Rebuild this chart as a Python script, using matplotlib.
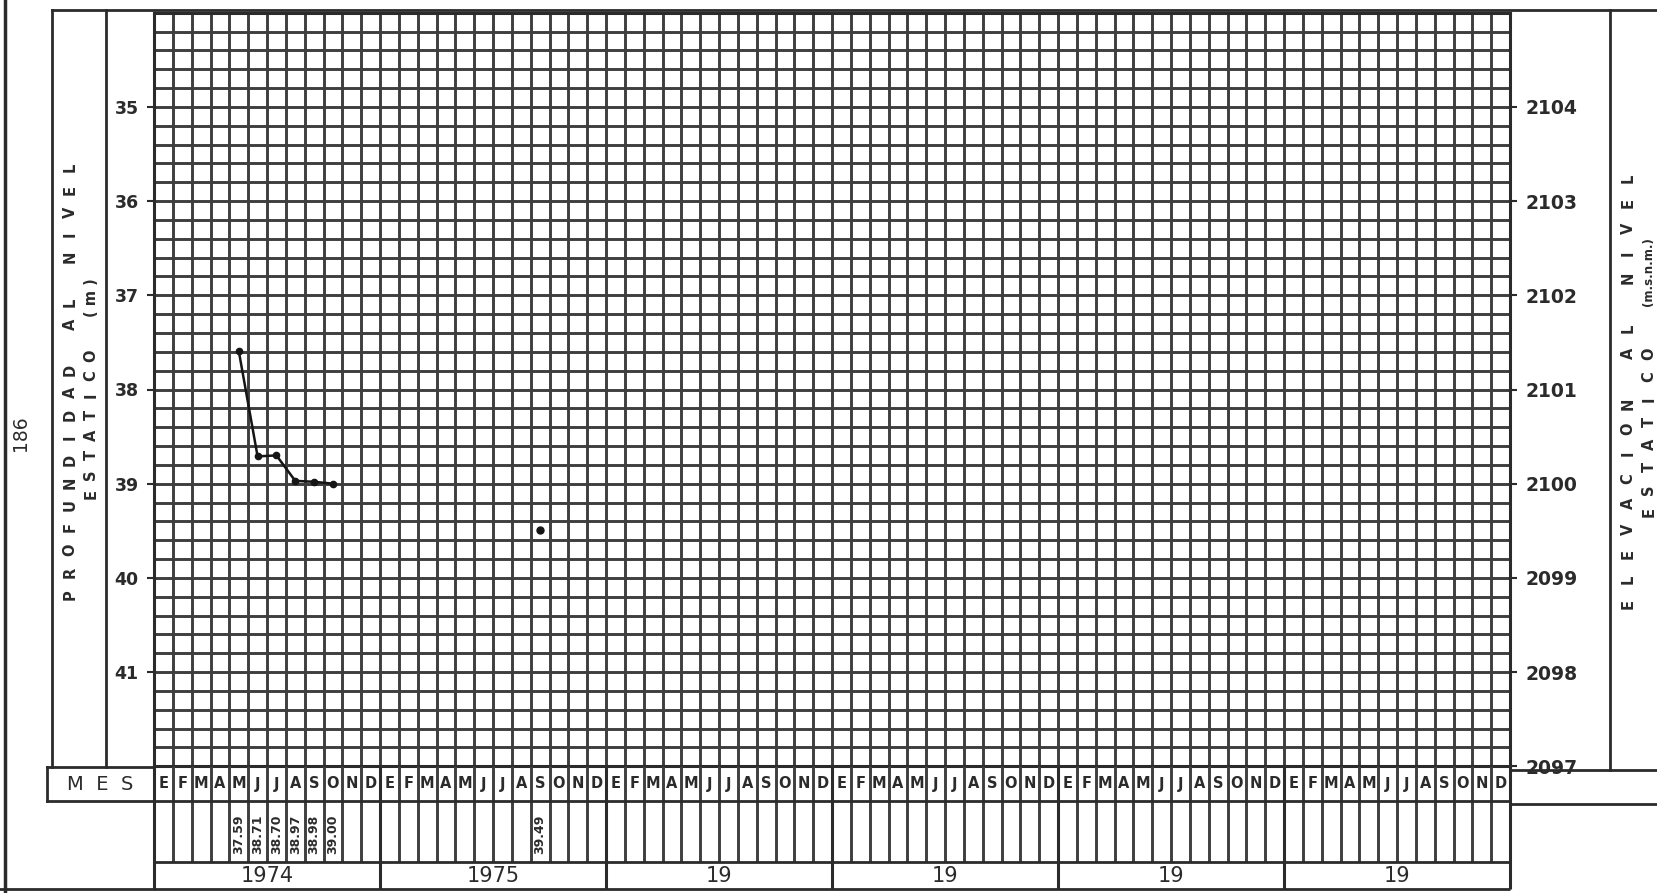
import numpy as np
import matplotlib.pyplot as plt
from matplotlib.ticker import MultipleLocator

# lecturas de profundidad al nivel estatico (m), mes contado desde enero 1974
meses_lect = [4, 5, 6, 7, 8, 9]
prof_lect = [37.59, 38.71, 38.70, 38.97, 38.98, 39.00]
mes_aislado = [20]
prof_aislada = [39.49]

meses = ['E', 'F', 'M', 'A', 'M', 'J', 'J', 'A', 'S', 'O', 'N', 'D']
anios = ['1974', '1975', '19', '19', '19', '19']
prof_ticks = [35, 36, 37, 38, 39, 40, 41]
elev_ticks = [2104, 2103, 2102, 2101, 2100, 2099, 2098, 2097]

W, H = 1657, 893
ink = '#2b2b2b'
grid_c = '#3e3e3e'


def fr(x0, y0, x1, y1):
    return [x0 / W, 1 - y1 / H, (x1 - x0) / W, (y1 - y0) / H]


def spaced(ax, x, y_bot, y_top, s, **kw):
    # letras verticales repartidas de abajo hacia arriba
    ys = np.linspace(y_bot, y_top, len(s))
    for ch, y in zip(s, ys):
        if ch != ' ':
            ax.text(x, y, ch, rotation=90, ha='center', va='center', **kw)


fig = plt.figure(figsize=(W / 100, H / 100), dpi=100)
fig.patch.set_facecolor('white')

# marco de la hoja (coordenadas en pixeles)
bg = fig.add_axes([0, 0, 1, 1])
bg.set_xlim(0, W)
bg.set_ylim(H, 0)
bg.axis('off')
kw = dict(color=ink, lw=2)
bg.plot([52, W], [10, 10], **kw)
bg.plot([52, 52], [10, 767], **kw)
bg.plot([106, 106], [10, 767], **kw)
bg.plot([47, 154], [767, 767], **kw)
bg.plot([47, 154], [801, 801], **kw)
bg.plot([47, 47], [767, 801], **kw)
bg.plot([1610, 1610], [10, 770], **kw)
bg.plot([1510, W], [770, 770], **kw)
bg.plot([1510, W], [804, 804], **kw)
bg.plot([5, 5], [0, H], color=ink, lw=2.5)
bg.plot([0, 154], [889, 889], **kw)

bg.text(21, 433, '186', rotation=90, ha='center', va='center', fontsize=13.5, color=ink)
bg.text(100, 785, 'M  E  S', ha='center', va='center', fontsize=14, color=ink)

lab = dict(fontsize=10.5, fontweight='bold', color=ink)
spaced(bg, 70, 595, 167, 'PROFUNDIDAD AL NIVEL', **lab)
spaced(bg, 91, 494, 356, 'ESTATICO', **lab)
bg.text(91, 298, '( m )', rotation=90, ha='center', va='center', **lab)
spaced(bg, 1628, 604, 178, 'ELEVACION AL NIVEL', **lab)
spaced(bg, 1649, 512, 354, 'ESTATICO', **lab)
bg.text(1649, 272, '(m.s.n.m.)', rotation=90, ha='center', va='center',
        fontsize=8.5, fontweight='bold', color=ink)

# grafica principal
ax = fig.add_axes(fr(154, 12.8, 1510, 766.2))
ax.set_xlim(0, 72)
ax.set_ylim(42, 34)
ax.set_xticks(np.arange(0, 73, 1))
ax.tick_params(axis='x', length=0, labelbottom=False)
ax.set_yticks(prof_ticks)
ax.yaxis.set_minor_locator(MultipleLocator(0.2))
ax.tick_params(axis='y', which='major', length=5, width=1.5, color=ink, pad=6,
               labelsize=12.5, labelcolor=ink)
ax.tick_params(axis='y', which='minor', length=0)
for t in ax.get_yticklabels():
    t.set_fontweight('bold')
ax.grid(True, which='both', color=grid_c, lw=2.1)
ax.set_axisbelow(True)
for s in ax.spines.values():
    s.set_color(ink)
    s.set_linewidth(2.2)

x1 = np.array(meses_lect) + 0.5
ax.plot(x1, prof_lect, color='#151515', lw=1.8, marker='o', ms=4.5, zorder=3)
ax.plot(np.array(mes_aislado) + 0.5, prof_aislada, color='#151515', ls='none',
        marker='o', ms=5, zorder=3)

ax2 = ax.twinx()
ax2.set_ylim(2097, 2105)
ax2.set_yticks(elev_ticks)
ax2.tick_params(axis='y', length=5, width=1.5, color=ink, pad=6,
                labelsize=13.5, labelcolor=ink)
for t in ax2.get_yticklabels():
    t.set_fontweight('bold')
for s in ax2.spines.values():
    s.set_visible(False)

# renglones de meses, lecturas y anios
sx = fig.add_axes(fr(154, 766.2, 1510, 889))
sx.set_xlim(0, 72)
sx.set_ylim(889, 766.2)
sx.axis('off')
sx.vlines(np.arange(0, 73), 766.2, 862, color=grid_c, lw=2.1, clip_on=False)
sx.vlines(np.arange(0, 73, 12), 766.2, 889, color=ink, lw=2.2, clip_on=False)
sx.hlines([801, 862, 889], 0, 72, color=ink, lw=2, clip_on=False)

for k in range(6):
    for j, m in enumerate(meses):
        sx.text(12 * k + j + 0.5, 784, m, ha='center', va='center',
                fontsize=10.5, fontweight='bold', color=ink)
    sx.text(12 * k + 6, 876, anios[k], ha='center', va='center', fontsize=15, color=ink)

for m, v in zip(meses_lect + mes_aislado, prof_lect + prof_aislada):
    sx.text(m + 0.5, 834, f'{v:.2f}', rotation=90, ha='center', va='center',
            fontsize=9, fontweight='bold', color=ink)

fig.savefig('out.png', dpi=100)
